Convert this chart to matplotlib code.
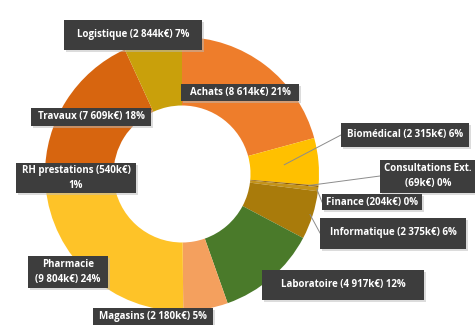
import numpy as np
import matplotlib.pyplot as plt
from matplotlib.patches import Rectangle

# dépenses par poste, en k€ (ordre de tracé, sens horaire depuis midi)
categories = ["Achats", "Biomédical", "Consultations Ext.", "Finance", "Informatique",
              "Laboratoire", "Magasins", "Pharmacie", "RH prestations", "Travaux", "Logistique"]
amounts = [8614, 2315, 69, 204, 2375, 4917, 2180, 9804, 540, 7609, 2844]
colors = ["#EE7D2B", "#FFC000", "#8A5A0C", "#C4931A", "#A97B0B",
          "#4A7A2A", "#F4A05E", "#FEC328", "#E8A030", "#D7650F", "#C9A00B"]

# position des étiquettes : centre x, centre y, largeur, hauteur (pixels)
boxes = {
    "Achats": (240, 92, 118, 17),
    "Biomédical": (405, 135, 128, 24),
    "Consultations Ext.": (428, 176, 96, 33),
    "Finance": (372, 202, 100, 16),
    "Informatique": (393, 233, 146, 31),
    "Laboratoire": (343, 285, 162, 30),
    "Magasins": (153, 317, 120, 18),
    "Pharmacie": (68, 272, 80, 32),
    "RH prestations": (76, 178, 120, 30),
    "Travaux": (91, 117, 120, 18),
    "Logistique": (133, 35, 138, 30),
}
two_lines = {"Consultations Ext.", "Pharmacie", "RH prestations"}
leaders = {"Biomédical": 0.75, "Consultations Ext.": 0.93, "Finance": 0.99, "Informatique": 0.98}

cx, cy, R = 182, 174, 137

fig = plt.figure(figsize=(4.75, 3.25), dpi=100)
ax = fig.add_axes([0, 0, 1, 1])

# y is flipped below, so start at -90 and run counter-clockwise in data space
wedges, _ = ax.pie(amounts, colors=colors, startangle=-90, counterclock=True,
                   center=(cx, cy), radius=R,
                   wedgeprops=dict(width=R * 0.5, linewidth=0))
ax.set_xlim(0, 475)
ax.set_ylim(325, 0)
ax.set_aspect("equal")
ax.axis("off")

total = sum(amounts)


def fmt(v):
    return f"{v:,}".replace(",", " ")


for name, val, w in zip(categories, amounts, wedges):
    pct = round(100 * val / total)
    if name == "RH prestations":
        label = f"{name} ({fmt(val)}k€)\n{pct}%"
    elif name in two_lines:
        label = f"{name}\n({fmt(val)}k€) {pct}%"
    else:
        label = f"{name} ({fmt(val)}k€) {pct}%"
    bx, by, bw, bh = boxes[name]

    if name in leaders:
        ang = np.deg2rad((w.theta1 + w.theta2) / 2)
        r = R * leaders[name]
        px, py = cx + r * np.cos(ang), cy + r * np.sin(ang)
        ax.plot([bx - bw / 2, px], [by, py], color="#8c8c8c", lw=0.7, zorder=3)

    ax.add_patch(Rectangle((bx - bw / 2 + 2, by - bh / 2 + 2), bw, bh,
                           facecolor="#bbbbbb", alpha=0.5, lw=0, zorder=4))
    ax.add_patch(Rectangle((bx - bw / 2, by - bh / 2), bw, bh,
                           facecolor="#3d3d3d", lw=0, zorder=5))
    ax.text(bx, by, label, ha="center", va="center", color="white",
            fontsize=7.0, fontweight="bold", family="Open Sans",
            linespacing=1.4, zorder=6)

fig.savefig("out.png", dpi=100)
